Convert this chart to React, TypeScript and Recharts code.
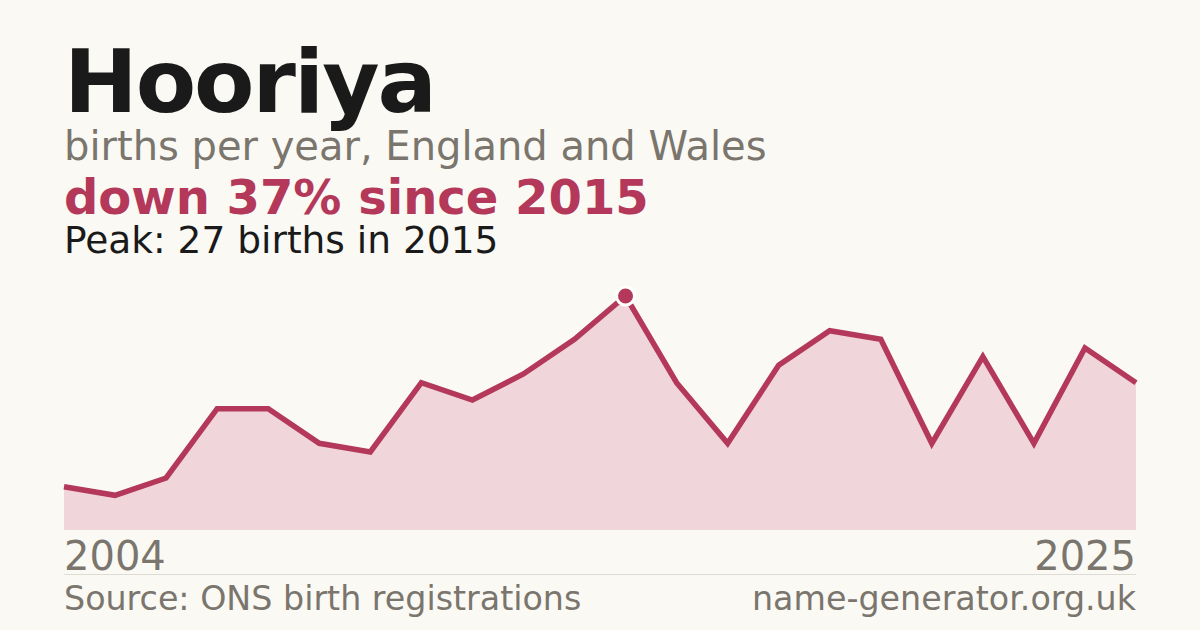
import React from 'react';
import { AreaChart, Area, XAxis, YAxis, ReferenceDot } from 'recharts';

const years = [2004, 2005, 2006, 2007, 2008, 2009, 2010, 2011, 2012, 2013, 2014, 2015, 2016, 2017, 2018, 2019, 2020, 2021, 2022, 2023, 2024, 2025];
const births = [5, 4, 6, 14, 14, 10, 9, 17, 15, 18, 22, 27, 17, 10, 19, 23, 22, 10, 20, 10, 21, 17];
const tickYears = [2004, 2025];
const peakYear = 2015;
const peakValue = 27;

const title = 'Hooriya';
const subtitle = 'births per year, England and Wales';
const headline = 'down 37% since 2015';
const peakNote = 'Peak: 27 births in 2015';
const sourceText = 'Source: ONS birth registrations';
const siteText = 'name-generator.org.uk';

const data = years.map((y, i) => ({ year: y, births: births[i] }));

const BG = '#faf9f4';
const RED = '#b3385a';
const FILL = '#f0d5da';
const GRAY = '#7a756d';
const DARK = '#1a1a1a';
const FONT = "'DejaVu Sans', sans-serif";

const YearTick = (props: any) => {
  const { x, payload, index } = props;
  return (
    <text x={x} y={570} textAnchor={index === 0 ? 'start' : 'end'} fill={GRAY} fontSize={40} fontFamily={FONT}>
      {payload.value}
    </text>
  );
};

export default function App() {
  return (
    <div style={{ position: 'fixed', left: 0, top: 0, width: 1200, height: 630, background: BG, overflow: 'hidden' }}>
      <div style={{ position: 'absolute', left: 0, top: 0 }}>
        <AreaChart width={1200} height={630} data={data} margin={{ top: 270, right: 64, left: 64, bottom: 50 }}>
          <XAxis
            dataKey="year"
            type="number"
            domain={[2004, 2025]}
            ticks={tickYears}
            axisLine={false}
            tickLine={false}
            height={50}
            tick={<YearTick />}
            interval={0}
          />
          <YAxis hide domain={[0, 30]} width={0} />
          <Area
            type="linear"
            dataKey="births"
            stroke={RED}
            strokeWidth={5.5}
            fill={FILL}
            fillOpacity={1}
            isAnimationActive={false}
            dot={false}
            activeDot={false}
          />
          <ReferenceDot x={peakYear} y={peakValue} r={9} fill={RED} stroke="#ffffff" strokeWidth={3} />
        </AreaChart>
      </div>
      <svg width={1200} height={630} style={{ position: 'absolute', left: 0, top: 0, pointerEvents: 'none' }}>
        <text x={64} y={112} fill={DARK} fontSize={88} fontWeight="bold" letterSpacing={-2} fontFamily={FONT}>{title}</text>
        <text x={64} y={160} fill={GRAY} fontSize={40} fontFamily={FONT}>{subtitle}</text>
        <text x={64} y={214} fill={RED} fontSize={48} fontWeight="bold" fontFamily={FONT}>{headline}</text>
        <text x={64} y={253} fill={DARK} fontSize={37.5} fontFamily={FONT}>{peakNote}</text>
        <line x1={64} x2={1136} y1={574.5} y2={574.5} stroke="#dedbd4" strokeWidth={1} />
        <text x={64} y={610} fill={GRAY} fontSize={33.3} fontFamily={FONT}>{sourceText}</text>
        <text x={1136} y={610} fill={GRAY} fontSize={33.3} textAnchor="end" fontFamily={FONT}>{siteText}</text>
      </svg>
    </div>
  );
}
